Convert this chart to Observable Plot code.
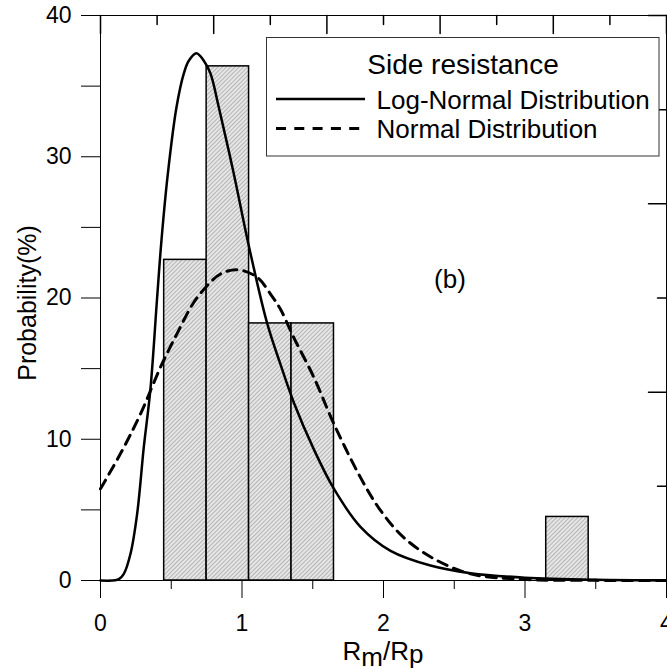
<!DOCTYPE html>
<html>
<head>
<meta charset="utf-8">
<script src="https://cdn.jsdelivr.net/npm/d3@7"></script>
<script src="https://cdn.jsdelivr.net/npm/@observablehq/plot@0.6"></script>
<style>
  body { margin: 0; background: #fff; }
  svg text { font-family: "Liberation Sans", Arial, sans-serif; }
</style>
</head>
<body>
<div id="chart"></div>
<script>
// Histogram bins (R_m/R_p) and probability (%)
const binLeft  = [0.45, 0.75, 1.05, 1.35, 3.15];
const binRight = [0.75, 1.05, 1.35, 1.65, 3.45];
const binPct   = [22.7, 36.4, 18.2, 18.2, 4.5];

// Log-normal fitted curve
const logX = [0, 0.08, 0.13, 0.165, 0.212, 0.259, 0.306, 0.353, 0.40, 0.431, 0.476, 0.537, 0.589, 0.624, 0.678, 0.73, 0.777, 0.836, 0.942, 1.048, 1.178, 1.272, 1.366, 1.507, 1.649, 1.837, 2.05, 2.332, 2.615, 3.0, 3.5, 4.0];
const logY = [0, 0, 0.1, 0.47, 1.89, 4.72, 9.44, 13.57, 20.0, 24.1, 28.8, 33.5, 35.9, 36.8, 37.33, 36.8, 35.9, 33.5, 28.8, 23.7, 18.2, 15.3, 12.6, 9.3, 6.5, 3.8, 2.1, 1.06, 0.52, 0.2, 0.05, 0.01];

// Normal fitted curve
const normX = [0, 0.153, 0.283, 0.424, 0.542, 0.66, 0.766, 0.848, 0.966, 1.107, 1.2, 1.272, 1.366, 1.507, 1.649, 1.837, 1.979, 2.14, 2.356, 2.615, 3.0, 3.5, 4.0];
const normY = [6.49, 9.2, 11.8, 15.1, 17.5, 19.7, 21.0, 21.7, 22.0, 21.47, 20.3, 19.2, 17.2, 14.4, 11.1, 7.3, 4.96, 3.07, 1.54, 0.47, 0.08, 0.01, 0.0];

// Tick values
const xMajor = [0, 1, 2, 3, 4];
const xMinor = [0.5, 1.5, 2.5, 3.5];
const yMajor = [0, 10, 20, 30, 40];
const yMinor = [5, 15, 25, 35];
const topMajor = [0, 0.8, 1.6, 2.4, 3.2, 4.0];
const topMinor = [0.4, 1.2, 2.0, 2.8, 3.6];
const rightMajor = [0, 40 / 3, 80 / 3, 40];
const rightMinor = [20 / 3, 20, 100 / 3];

const bins = binLeft.map((x1, i) => ({x1, x2: binRight[i], y: binPct[i]}));
const logCurve = logX.map((x, i) => ({x, y: logY[i]}));
const normCurve = normX.map((x, i) => ({x, y: normY[i]}));

const shapeDown = {draw(ctx, l) { ctx.moveTo(0, 0); ctx.lineTo(0, l); }};
const shapeLeft = {draw(ctx, l) { ctx.moveTo(0, 0); ctx.lineTo(-l, 0); }};

const FONT = "Liberation Sans, Arial, sans-serif";

const chart = Plot.plot({
  width: 667,
  height: 671,
  marginLeft: 100,
  marginRight: 1,
  marginTop: 15,
  marginBottom: 91,
  style: {fontFamily: FONT, background: "white", color: "black"},
  x: {domain: [0, 4]},
  y: {domain: [0, 40]},
  marks: [
    Plot.rectY(bins, {x1: "x1", x2: "x2", y: "y", fill: "url(#hatch)", stroke: "black", strokeWidth: 1.5}),
    Plot.line(normCurve, {x: "x", y: "y", curve: "catmull-rom", stroke: "black", strokeWidth: 3, strokeDasharray: "10,7"}),
    Plot.line(logCurve, {x: "x", y: "y", curve: "catmull-rom", stroke: "black", strokeWidth: 2.5}),
    Plot.ruleX([0, 4], {stroke: "black", strokeWidth: 1}),
    Plot.ruleY([0, 40], {stroke: "black", strokeWidth: 1}),
    Plot.axisX({ticks: xMajor, tickSize: 18, tickPadding: 16, fontSize: 23, tickFormat: d => String(d), label: null}),
    Plot.axisX({ticks: xMinor, tickSize: 9, tickFormat: () => "", label: null}),
    Plot.axisY({ticks: yMajor, tickSize: 19, tickPadding: 10, fontSize: 23, tickFormat: d => String(d), label: null}),
    Plot.axisY({ticks: yMinor, tickSize: 19, tickFormat: () => "", label: null}),
    Plot.vector(topMajor, {x: d => d, frameAnchor: "top", length: 18, shape: shapeDown, anchor: "start", stroke: "black"}),
    Plot.vector(topMinor, {x: d => d, frameAnchor: "top", length: 9, shape: shapeDown, anchor: "start", stroke: "black"}),
    Plot.vector(rightMajor, {y: d => d, frameAnchor: "right", length: 18, shape: shapeLeft, anchor: "start", stroke: "black"}),
    Plot.vector(rightMinor, {y: d => d, frameAnchor: "right", length: 9, shape: shapeLeft, anchor: "start", stroke: "black"})
  ]
});

document.getElementById("chart").appendChild(chart);

const svg = d3.select(chart);

// Hatch pattern for the bars
const defs = svg.insert("defs", ":first-child");
const pat = defs.append("pattern")
  .attr("id", "hatch")
  .attr("patternUnits", "userSpaceOnUse")
  .attr("width", 3)
  .attr("height", 3)
  .attr("patternTransform", "rotate(45)");
pat.append("rect").attr("width", 3).attr("height", 3).attr("fill", "#e6e6e6");
pat.append("line").attr("x1", 0).attr("y1", 0).attr("x2", 0).attr("y2", 3)
  .attr("stroke", "#8c8c8c").attr("stroke-width", 1.1);

// Axis titles
svg.append("text")
  .attr("transform", "translate(36,303) rotate(-90)")
  .attr("text-anchor", "middle")
  .attr("font-size", 25)
  .attr("fill", "black")
  .text("Probability(%)");

const xl = svg.append("text")
  .attr("x", 383)
  .attr("y", 660)
  .attr("text-anchor", "middle")
  .attr("font-size", 26)
  .attr("fill", "black");
xl.append("tspan").text("R");
xl.append("tspan").attr("dy", 6).text("m");
xl.append("tspan").attr("dy", -6).text("/R");
xl.append("tspan").attr("dy", 3).text("p");

// Panel tag
svg.append("text")
  .attr("x", 450)
  .attr("y", 288)
  .attr("text-anchor", "middle")
  .attr("font-size", 26)
  .attr("fill", "black")
  .text("(b)");

// Legend
const lg = svg.append("g").attr("text-anchor", "start");
lg.append("rect")
  .attr("x", 266.5).attr("y", 37.5)
  .attr("width", 392.5).attr("height", 118.5)
  .attr("fill", "white")
  .attr("stroke", "#333").attr("stroke-width", 1);
lg.append("text")
  .attr("x", 463).attr("y", 74)
  .attr("text-anchor", "middle")
  .attr("font-size", 28)
  .attr("fill", "black")
  .text("Side resistance");
lg.append("line")
  .attr("x1", 276).attr("x2", 365).attr("y1", 99).attr("y2", 99)
  .attr("stroke", "black").attr("stroke-width", 2.5);
lg.append("text")
  .attr("x", 376.5).attr("y", 108.5)
  .attr("text-anchor", "start")
  .attr("font-size", 26)
  .attr("fill", "black")
  .text("Log-Normal Distribution");
lg.append("line")
  .attr("x1", 276).attr("x2", 362).attr("y1", 128.5).attr("y2", 128.5)
  .attr("stroke", "black").attr("stroke-width", 3)
  .attr("stroke-dasharray", "10,8.3");
lg.append("text")
  .attr("x", 376.5).attr("y", 137.5)
  .attr("text-anchor", "start")
  .attr("font-size", 26)
  .attr("fill", "black")
  .text("Normal Distribution");
</script>
</body>
</html>
